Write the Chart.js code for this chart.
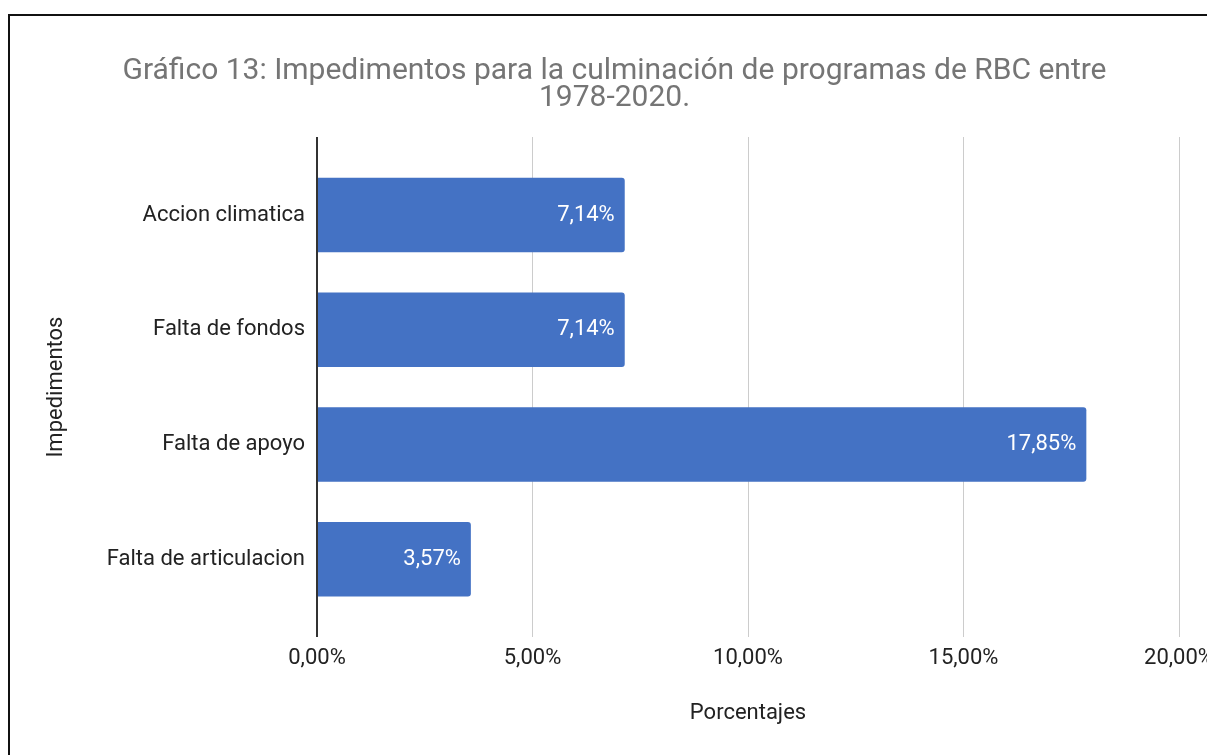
<!DOCTYPE html>
<html>
<head>
<meta charset="utf-8">
<script src="https://cdn.jsdelivr.net/npm/chart.js@4"></script>
<style>
  html, body { margin: 0; padding: 0; background: #fff; overflow: hidden; }
  #wrap { position: absolute; left: 0; top: 0; width: 1229px; height: 755px; }
  #frame { position: absolute; left: 8px; top: 14px; width: 1300px; height: 800px;
           border-top: 2px solid #111; border-left: 2px solid #111; pointer-events: none; }
</style>
</head>
<body>
<div id="wrap"><canvas id="myChart"></canvas></div>
<div id="frame"></div>
<script>
// data
const categories = ['Accion climatica', 'Falta de fondos', 'Falta de apoyo', 'Falta de articulacion'];
const porcentajes = [7.14, 7.14, 17.85, 3.57];
const xTicks = [0, 5, 10, 15, 20];

const fmt = v => v.toFixed(2).replace('.', ',') + '%';

Chart.defaults.font.family = 'Roboto';
Chart.defaults.font.size = 22;
Chart.defaults.color = '#222';

// white value labels at the end of each bar
const barLabels = {
  id: 'barLabels',
  afterDatasetsDraw(chart) {
    const ctx = chart.ctx;
    const meta = chart.getDatasetMeta(0);
    ctx.save();
    ctx.font = '22px Roboto';
    ctx.fillStyle = '#fff';
    ctx.textAlign = 'right';
    ctx.textBaseline = 'middle';
    meta.data.forEach((bar, i) => {
      ctx.fillText(fmt(porcentajes[i]), bar.x - 10, bar.y);
    });
    ctx.restore();
  }
};

const ctx = document.getElementById('myChart').getContext('2d');
const mychart = new Chart(ctx, {
  type: 'bar',
  data: {
    datasets: [{
      data: porcentajes.map((v, i) => ({ x: v, y: i })),
      backgroundColor: '#4472c4',
      borderRadius: 3,
      borderSkipped: 'start',
      categoryPercentage: 1,
      barPercentage: 0.65
    }]
  },
  options: {
    indexAxis: 'y',
    responsive: true,
    maintainAspectRatio: false,
    animation: false,
    layout: { padding: { left: 50, right: 50, top: 0, bottom: 28 } },
    plugins: {
      legend: { display: false },
      tooltip: { enabled: false },
      title: {
        display: true,
        text: ['Gráfico 13: Impedimentos para la culminación de programas de RBC entre', '1978-2020.'],
        color: '#757575',
        font: { size: 30, weight: 'normal', lineHeight: 0.9 },
        padding: { top: 58, bottom: 25 }
      }
    },
    scales: {
      x: {
        type: 'linear',
        min: 0,
        max: 20,
        afterBuildTicks: s => { s.ticks = xTicks.map(v => ({ value: v })); },
        ticks: { callback: v => fmt(v), padding: 8, color: '#222', maxRotation: 0 },
        grid: {
          drawTicks: false,
          color: c => (c.tick && c.tick.value === 0) ? '#333' : '#ccc',
          lineWidth: c => (c.tick && c.tick.value === 0) ? 2 : 1
        },
        border: { display: false },
        title: { display: true, text: 'Porcentajes', color: '#222', padding: { top: 21, bottom: 0 } }
      },
      y: {
        type: 'linear',
        reverse: true,
        offset: false,
        min: -0.68,
        max: 3.68,
        afterBuildTicks: s => { s.ticks = categories.map((c, i) => ({ value: i })); },
        afterFit: s => { s.width = 267; },
        ticks: { callback: v => categories[v], padding: 4, color: '#222' },
        grid: { display: false, offset: false },
        border: { display: false },
        title: { display: true, text: 'Impedimentos', color: '#222', font: { lineHeight: 1 }, padding: { top: -5, bottom: 0 } }
      }
    }
  },
  plugins: [barLabels]
});
</script>
</body>
</html>
